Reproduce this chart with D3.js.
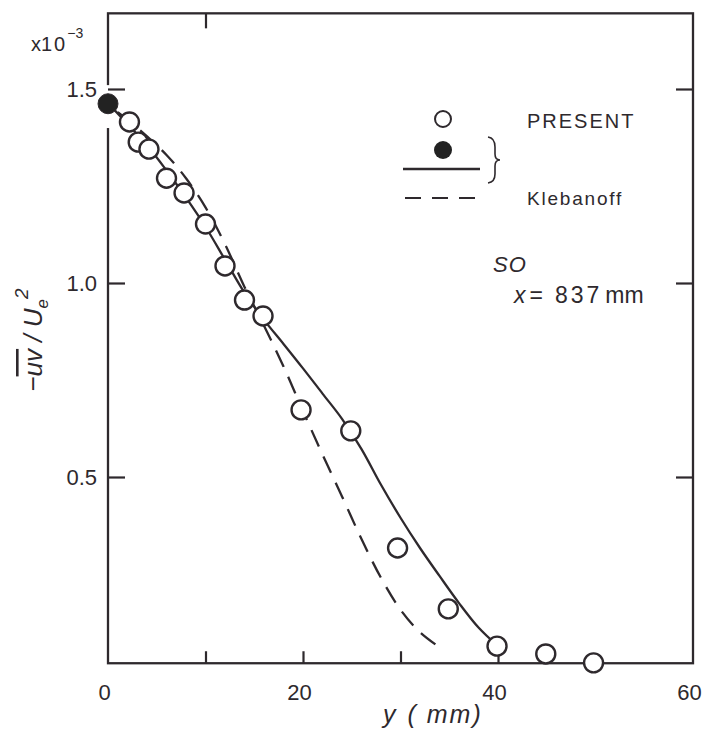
<!DOCTYPE html>
<html>
<head>
<meta charset="utf-8">
<script src="https://cdn.jsdelivr.net/npm/d3@7"></script>
<style>
  body { margin: 0; background: #fff; }
  text { font-family: "Liberation Sans", Arial, sans-serif; fill: #2e292d; }
</style>
</head>
<body>
<svg id="chart" width="709" height="730"></svg>
<script>
// present data, open circles (y in mm, -uv/Ue^2 in 1e-3)
var presentY = [2.2, 3.1, 4.2, 6.0, 7.8, 10.0, 12.0, 14.0, 15.9, 19.8, 24.9, 29.7, 34.9, 39.9, 44.9, 49.8];
var presentV = [1.415, 1.363, 1.345, 1.27, 1.232, 1.152, 1.044, 0.956, 0.915, 0.673, 0.619, 0.317, 0.160, 0.064, 0.044, 0.021];

// filled point at the wall
var wallY = [0];
var wallV = [1.462];

// solid curve
var solidY = [0.5, 2, 4, 6, 8, 10, 12, 14, 16, 18, 20, 22, 24, 26, 28, 30, 32, 34, 36, 38, 40];
var solidV = [1.45, 1.41, 1.355, 1.29, 1.22, 1.145, 1.06, 0.975, 0.905, 0.843, 0.78, 0.715, 0.65, 0.572, 0.48, 0.395, 0.317, 0.245, 0.175, 0.112, 0.064];

// Klebanoff, dashed
var klebY = [1, 3, 6, 8, 10, 12, 14, 16, 18, 20, 22, 24, 26, 28, 30, 32, 34.4];
var klebV = [1.44, 1.40, 1.33, 1.27, 1.195, 1.10, 0.99, 0.89, 0.785, 0.67, 0.558, 0.45, 0.34, 0.24, 0.158, 0.10, 0.054];

var xTickLabels = [0, 20, 40, 60];
var xTickMarks = [10, 20, 30, 40];
var yTicks = [0.5, 1.0, 1.5];

var ink = "#2e292d";
var svg = d3.select("#chart");

var x = d3.scaleLinear().domain([0, 60]).range([108, 693]);
var y = d3.scaleLinear().domain([0, 1.5]).range([671, 89]);
var yLo = 0.02, yHi = 1.695; // frame edges

// frame
svg.append("rect")
  .attr("x", x(0)).attr("y", y(yHi))
  .attr("width", x(60) - x(0)).attr("height", y(yLo) - y(yHi))
  .attr("fill", "none").attr("stroke", ink).attr("stroke-width", 2.3);

// little break in the left axis around the wall point
svg.append("rect")
  .attr("x", x(0) - 4).attr("y", y(1.51)).attr("width", 8).attr("height", y(1.42) - y(1.51) + 8)
  .attr("fill", "#fff");

function styleAxis(g) {
  g.select(".domain").remove();
  g.selectAll("line").attr("stroke", ink).attr("stroke-width", 2.2);
  g.selectAll("text").attr("font-size", 22).attr("fill", ink).attr("font-family", "Liberation Sans, Arial, sans-serif");
}

// left axis
svg.append("g").attr("transform", "translate(" + x(0) + ",0)")
  .call(d3.axisLeft(y).tickValues(yTicks).tickSize(-17).tickPadding(11).tickFormat(d3.format(".1f")))
  .call(styleAxis);

// right axis
svg.append("g").attr("transform", "translate(" + x(60) + ",0)")
  .call(d3.axisRight(y).tickValues(yTicks).tickSize(-17).tickFormat(""))
  .call(styleAxis);

// bottom ticks and labels
svg.append("g").attr("transform", "translate(0," + y(yLo) + ")")
  .call(d3.axisBottom(x).tickValues(xTickMarks).tickSize(-12).tickFormat(""))
  .call(styleAxis);
svg.append("g").attr("transform", "translate(-4," + y(yLo) + ")")
  .call(d3.axisBottom(x).tickValues(xTickLabels).tickSize(0).tickPadding(21))
  .call(styleAxis);

// top tick
svg.append("g").attr("transform", "translate(0," + y(yHi) + ")")
  .call(d3.axisTop(x).tickValues([10]).tickSize(-15).tickFormat(""))
  .call(styleAxis);

// curves
var line = d3.line().x(d => x(d[0])).y(d => y(d[1])).curve(d3.curveCatmullRom.alpha(0.5));

svg.append("path")
  .datum(d3.zip(solidY, solidV))
  .attr("d", line)
  .attr("fill", "none").attr("stroke", ink).attr("stroke-width", 2.3);

svg.append("path")
  .datum(d3.zip(klebY, klebV))
  .attr("d", line)
  .attr("fill", "none").attr("stroke", ink).attr("stroke-width", 2.3)
  .attr("stroke-dasharray", "18,11");

// points
svg.append("g").selectAll("circle")
  .data(d3.zip(presentY, presentV))
  .enter().append("circle")
  .attr("cx", d => x(d[0])).attr("cy", d => y(d[1]))
  .attr("r", 9.5)
  .attr("fill", "#fff").attr("stroke", ink).attr("stroke-width", 2.4);

svg.append("g").selectAll("circle")
  .data(d3.zip(wallY, wallV))
  .enter().append("circle")
  .attr("cx", d => x(d[0])).attr("cy", d => y(d[1]))
  .attr("r", 10)
  .attr("fill", "#222").attr("stroke", ink).attr("stroke-width", 1);

// x10^-3
var mult = svg.append("text").attr("x", 31).attr("y", 51).attr("font-size", 20);
mult.append("tspan").text("x");
mult.append("tspan").attr("letter-spacing", 2).text("10");
mult.append("tspan").attr("dy", -13).attr("font-size", 14).text("\u22123");

// axis titles
var xt = svg.append("text").attr("x", 383).attr("y", 723).attr("font-size", 25).attr("font-style", "italic");
xt.append("tspan").text("y");
xt.append("tspan").attr("dx", 12).attr("letter-spacing", 2).text("( mm)");

var yt = svg.append("text")
  .attr("transform", "translate(42,340) rotate(-90)")
  .attr("text-anchor", "middle")
  .attr("font-size", 26).attr("font-style", "italic");
yt.append("tspan").text("\u2212");
yt.append("tspan").attr("text-decoration", "overline").style("text-decoration", "overline").text("uv");
yt.append("tspan").text(" / U");
yt.append("tspan").attr("dy", 6).attr("font-size", 17).text("e");
yt.append("tspan").attr("dy", -20).attr("font-size", 19).text("2");

// legend
var lg = svg.append("g");
lg.append("circle").attr("cx", 443).attr("cy", 119).attr("r", 8)
  .attr("fill", "#fff").attr("stroke", ink).attr("stroke-width", 2);
lg.append("circle").attr("cx", 443).attr("cy", 150).attr("r", 9)
  .attr("fill", "#222");
lg.append("line").attr("x1", 403).attr("x2", 480).attr("y1", 169).attr("y2", 169)
  .attr("stroke", ink).attr("stroke-width", 2.5);
lg.append("line").attr("x1", 405).attr("x2", 477).attr("y1", 198).attr("y2", 198)
  .attr("stroke", ink).attr("stroke-width", 2).attr("stroke-dasharray", "16,11");
lg.append("path")
  .attr("d", "M488,137 Q495,138 495,147 L495,154 Q495,160 500,160 Q495,160 495,166 L495,174 Q495,182 488,183")
  .attr("fill", "none").attr("stroke", ink).attr("stroke-width", 1.6);
lg.append("text").attr("x", 527).attr("y", 128).attr("font-size", 20).attr("letter-spacing", 2).text("PRESENT");
lg.append("text").attr("x", 527).attr("y", 205).attr("font-size", 19).attr("letter-spacing", 1.8).text("Klebanoff");

// station label
svg.append("text").attr("x", 493).attr("y", 272).attr("font-size", 22).attr("font-style", "italic").attr("letter-spacing", 1).text("SO");
var st = svg.append("text").attr("x", 514).attr("y", 303).attr("font-size", 23);
st.append("tspan").attr("font-style", "italic").text("x");
st.append("tspan").attr("dx", 4).text("=");
st.append("tspan").attr("dx", 12).attr("letter-spacing", 3).text("837");
st.append("tspan").attr("dx", 3).text("mm");
</script>
</body>
</html>
